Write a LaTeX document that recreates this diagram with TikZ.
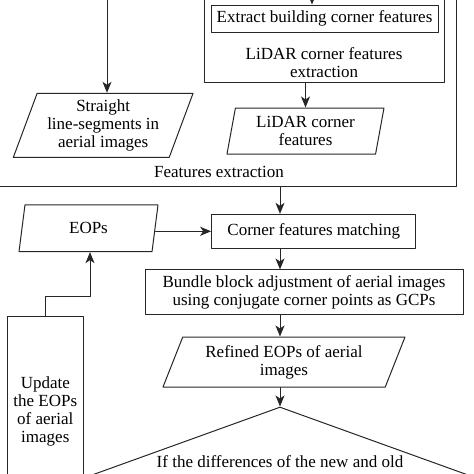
\documentclass[tikz,border=0pt]{standalone}
\usepackage{fontspec}
\setmainfont{Liberation Serif}
\usepackage{pgf,tikz}
\usetikzlibrary{arrows.meta}
\usetikzlibrary{positioning}
\usetikzlibrary{shapes.geometric}

\begin{document}
\begin{tikzpicture}[line cap=round,line join=round,>={Stealth[length=11pt,width=9pt,inset=3pt]},x=1pt,y=-1pt,color=black!85,line width=1pt,
  every node/.style={font=\fontsize{17}{18}\selectfont,align=center,inner sep=1pt,text=black},
  proc/.style={draw,rectangle},
  io/.style={draw,trapezium,trapezium stretches body,inner sep=1pt}]
\clip(0,0) rectangle (474,474);
\node[proc,minimum width=480,minimum height=300,anchor=south east] (featbox) at (457,186.7) {};
\node (featlabel) at (219,172) {Features extraction};
\node[proc,minimum width=240,minimum height=140,anchor=south west] (lidarbox) at (204,83) {};
\node (lidarlabel) at (324,62.5) {LiDAR corner features\\extraction};
\node[proc,minimum width=227,minimum height=27] (extract) at (324.5,18.5) {Extract building corner features};
\node[io,trapezium left angle=66,trapezium right angle=114,minimum width=179.7,minimum height=64] (lines) at (103.2,125.3) {Straight\\line-segments in\\aerial images};
\node[io,trapezium left angle=75,trapezium right angle=105,minimum width=157,minimum height=46] (lidarfeat) at (305.5,131) {LiDAR corner\\features};
\node[io,trapezium left angle=66,trapezium right angle=114,minimum width=139,minimum height=46.7] (eops) at (88.5,228.3) {EOPs};
\node[proc,minimum width=204.3,minimum height=34] (match) at (313.8,231.3) {Corner features matching};
\node[proc,minimum width=318,minimum height=44.5] (bundle) at (304,292.2) {Bundle block adjustment of aerial images\\using conjugate corner points as GCPs};
\node[io,trapezium left angle=61,trapezium right angle=119,minimum width=242,minimum height=50] (refined) at (284,362) {Refined EOPs of aerial\\images};
\node[draw,diamond,minimum width=443,minimum height=160,inner sep=0pt] (check) at (280,487) {};
\node (checktext) at (280,462) {If the differences of the new and old};
\node[proc,minimum width=76,minimum height=189.6] (update) at (45.3,411.5) {Update\\the EOPs\\of aerial\\images};
\coordinate (spine) at (280,0);
\coordinate (leftin) at (107,-10);
\coordinate (lidarin) at (312,-10);
\draw[->] (leftin) -- (leftin |- lines.north);
\draw[->] (lidarin) -- (lidarin |- extract.north);
\draw[->] (lidarbox.south -| lidarfeat.north) -- (lidarfeat.north);
\draw[->] (featbox.south -| spine) -- (match.north -| spine);
\draw[->] (match.west -| eops.east) -- (match.west);
\draw[->] (match.south -| spine) -- (bundle.north -| spine);
\draw[->] (bundle.south -| spine) -- (refined.north -| spine);
\draw[->] (refined.south -| spine) -- (check.north);
\draw[->] (update.north) -- ++(0,-20) -| ([xshift=1.5pt]eops.south);
\end{tikzpicture}
\end{document}
